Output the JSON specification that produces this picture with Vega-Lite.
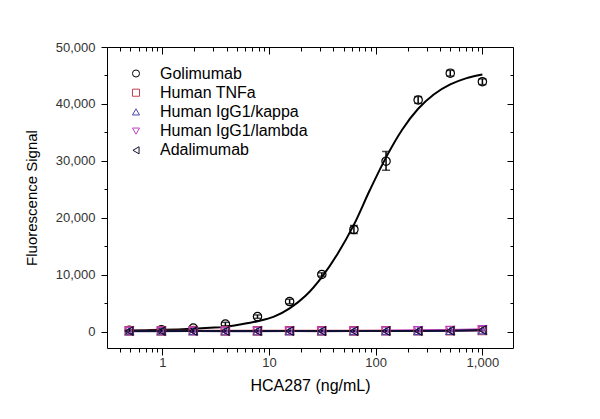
{
  "$schema": "https://vega.github.io/schema/vega-lite/v6.json",
  "autosize": "none",
  "width": 406,
  "height": 301,
  "padding": {"left": 107, "top": 47, "right": 87, "bottom": 71},
  "background": "white",
  "config": {
    "view": {"stroke": "black", "strokeWidth": 1},
    "font": "Liberation Sans",
    "axis": {"grid": false, "domain": false, "tickColor": "black", "labelFont": "Liberation Sans", "labelColor": "#333333", "labelFontSize": 13, "titleFont": "Liberation Sans", "titleFontWeight": "normal", "titleColor": "black", "titleFontSize": 16}
  },
  "datasets": {
    "gol": [
      {"x": 0.49, "y": 230, "lo": 80, "hi": 380},
      {"x": 0.98, "y": 350, "lo": 150, "hi": 550},
      {"x": 1.95, "y": 650, "lo": 400, "hi": 900},
      {"x": 3.9, "y": 1350, "lo": 1050, "hi": 1650},
      {"x": 7.8, "y": 2650, "lo": 2350, "hi": 2950},
      {"x": 15.6, "y": 5300, "lo": 4900, "hi": 5700},
      {"x": 31.25, "y": 10050, "lo": 9750, "hi": 10350},
      {"x": 62.5, "y": 17950, "lo": 17250, "hi": 18650},
      {"x": 125, "y": 29950, "lo": 28350, "hi": 31650},
      {"x": 250, "y": 40700, "lo": 40100, "hi": 41300},
      {"x": 500, "y": 45400, "lo": 44900, "hi": 45900},
      {"x": 1000, "y": 43900, "lo": 43400, "hi": 44400}
    ],
    "fit": [
      {"x": 0.49, "y": 230}, {"x": 0.7, "y": 270}, {"x": 1, "y": 330}, {"x": 1.4, "y": 410},
      {"x": 1.95, "y": 530}, {"x": 2.8, "y": 680}, {"x": 3.9, "y": 850}, {"x": 5.5, "y": 1300},
      {"x": 7.8, "y": 1850}, {"x": 11, "y": 2600}, {"x": 15.6, "y": 4100}, {"x": 22, "y": 6300},
      {"x": 31.25, "y": 9600}, {"x": 44, "y": 13700}, {"x": 62.5, "y": 18800}, {"x": 88, "y": 24840},
      {"x": 125, "y": 30620}, {"x": 177, "y": 35480}, {"x": 250, "y": 39150}, {"x": 350, "y": 41670},
      {"x": 500, "y": 43430}, {"x": 700, "y": 44490}, {"x": 1000, "y": 45180}
    ],
    "pts": [
      {"s": "Golimumab", "x": 0.49, "y": 230}, {"s": "Golimumab", "x": 0.98, "y": 350}, {"s": "Golimumab", "x": 1.95, "y": 650}, {"s": "Golimumab", "x": 3.9, "y": 1350}, {"s": "Golimumab", "x": 7.8, "y": 2650}, {"s": "Golimumab", "x": 15.6, "y": 5300}, {"s": "Golimumab", "x": 31.25, "y": 10050}, {"s": "Golimumab", "x": 62.5, "y": 17950}, {"s": "Golimumab", "x": 125, "y": 29950}, {"s": "Golimumab", "x": 250, "y": 40700}, {"s": "Golimumab", "x": 500, "y": 45400}, {"s": "Golimumab", "x": 1000, "y": 43900},
      {"s": "Human TNFa", "x": 0.49, "y": 150}, {"s": "Human TNFa", "x": 0.98, "y": 150}, {"s": "Human TNFa", "x": 1.95, "y": 160}, {"s": "Human TNFa", "x": 3.9, "y": 150}, {"s": "Human TNFa", "x": 7.8, "y": 150}, {"s": "Human TNFa", "x": 15.6, "y": 160}, {"s": "Human TNFa", "x": 31.25, "y": 150}, {"s": "Human TNFa", "x": 62.5, "y": 150}, {"s": "Human TNFa", "x": 125, "y": 160}, {"s": "Human TNFa", "x": 250, "y": 170}, {"s": "Human TNFa", "x": 500, "y": 180}, {"s": "Human TNFa", "x": 1000, "y": 200},
      {"s": "Human IgG1/kappa", "x": 0.49, "y": 100}, {"s": "Human IgG1/kappa", "x": 0.98, "y": 100}, {"s": "Human IgG1/kappa", "x": 1.95, "y": 110}, {"s": "Human IgG1/kappa", "x": 3.9, "y": 100}, {"s": "Human IgG1/kappa", "x": 7.8, "y": 100}, {"s": "Human IgG1/kappa", "x": 15.6, "y": 110}, {"s": "Human IgG1/kappa", "x": 31.25, "y": 100}, {"s": "Human IgG1/kappa", "x": 62.5, "y": 110}, {"s": "Human IgG1/kappa", "x": 125, "y": 110}, {"s": "Human IgG1/kappa", "x": 250, "y": 130}, {"s": "Human IgG1/kappa", "x": 500, "y": 150}, {"s": "Human IgG1/kappa", "x": 1000, "y": 250},
      {"s": "Human IgG1/lambda", "x": 0.49, "y": 120}, {"s": "Human IgG1/lambda", "x": 0.98, "y": 120}, {"s": "Human IgG1/lambda", "x": 1.95, "y": 130}, {"s": "Human IgG1/lambda", "x": 3.9, "y": 120}, {"s": "Human IgG1/lambda", "x": 7.8, "y": 120}, {"s": "Human IgG1/lambda", "x": 15.6, "y": 130}, {"s": "Human IgG1/lambda", "x": 31.25, "y": 130}, {"s": "Human IgG1/lambda", "x": 62.5, "y": 140}, {"s": "Human IgG1/lambda", "x": 125, "y": 160}, {"s": "Human IgG1/lambda", "x": 250, "y": 250}, {"s": "Human IgG1/lambda", "x": 500, "y": 320}, {"s": "Human IgG1/lambda", "x": 1000, "y": 450},
      {"s": "Adalimumab", "x": 0.49, "y": 120}, {"s": "Adalimumab", "x": 0.98, "y": 120}, {"s": "Adalimumab", "x": 1.95, "y": 120}, {"s": "Adalimumab", "x": 3.9, "y": 120}, {"s": "Adalimumab", "x": 7.8, "y": 120}, {"s": "Adalimumab", "x": 15.6, "y": 120}, {"s": "Adalimumab", "x": 31.25, "y": 120}, {"s": "Adalimumab", "x": 62.5, "y": 120}, {"s": "Adalimumab", "x": 125, "y": 130}, {"s": "Adalimumab", "x": 250, "y": 140}, {"s": "Adalimumab", "x": 500, "y": 180}, {"s": "Adalimumab", "x": 1000, "y": 300}
    ]
  },
  "layer": [
    {
      "data": {"name": "fit"},
      "mark": {"type": "line", "color": "black", "strokeWidth": 2, "interpolate": "monotone"},
      "encoding": {
        "x": {"field": "x", "type": "quantitative", "scale": {"type": "log", "domain": [0.303, 1936], "nice": false},
          "axis": {"orient": "bottom", "values": [1, 10, 100, 1000], "format": ",d", "tickSize": 7, "labelPadding": 1, "title": "HCA287 (ng/mL)", "titlePadding": 8}},
        "y": {"field": "y", "type": "quantitative", "scale": {"domain": [-2860, 50000], "nice": false, "zero": false},
          "axis": {"orient": "left", "values": [0, 10000, 20000, 30000, 40000, 50000], "format": ",d", "tickSize": 6, "labelPadding": 6, "title": "Fluorescence Signal", "titleFontSize": 15, "titlePadding": 16}}
      }
    },
    {
      "data": {"name": "pts"},
      "transform": [{"filter": "datum.s !== 'Golimumab'"}],
      "mark": {"type": "line", "strokeWidth": 2},
      "encoding": {
        "x": {"field": "x", "type": "quantitative", "axis": {"orient": "bottom", "values": [0.4,0.5,0.6,0.7,0.8,0.9,2,3,4,5,6,7,8,9,20,30,40,50,60,70,80,90,200,300,400,500,600,700,800,900], "labels": false, "tickSize": 4, "title": null}},
        "y": {"field": "y", "type": "quantitative", "axis": {"orient": "left", "values": [5000, 15000, 25000, 35000, 45000], "labels": false, "tickSize": 3, "title": null}},
        "color": {"field": "s", "type": "nominal"},
        "detail": {"field": "s"}
      }
    },
    {
      "data": {"name": "gol"},
      "mark": {"type": "rule", "color": "black", "strokeWidth": 1.5},
      "encoding": {
        "x": {"field": "x", "type": "quantitative", "axis": {"orient": "top", "values": [1, 10, 100, 1000], "labels": false, "tickSize": -7, "title": null}},
        "y": {"field": "lo", "type": "quantitative", "axis": {"orient": "right", "values": [0, 10000, 20000, 30000, 40000, 50000], "labels": false, "tickSize": -6, "title": null}},
        "y2": {"field": "hi"}
      }
    },
    {
      "data": {"name": "gol"},
      "mark": {"type": "tick", "orient": "horizontal", "color": "black", "size": 8, "thickness": 1.5},
      "encoding": {
        "x": {"field": "x", "type": "quantitative", "axis": {"orient": "top", "values": [0.4,0.5,0.6,0.7,0.8,0.9,2,3,4,5,6,7,8,9,20,30,40,50,60,70,80,90,200,300,400,500,600,700,800,900], "labels": false, "tickSize": -4, "title": null}},
        "y": {"field": "lo", "type": "quantitative", "axis": {"orient": "right", "values": [5000, 15000, 25000, 35000, 45000], "labels": false, "tickSize": -3, "title": null}}
      }
    },
    {
      "data": {"name": "gol"},
      "mark": {"type": "tick", "orient": "horizontal", "color": "black", "size": 8, "thickness": 1.5},
      "encoding": {
        "x": {"field": "x", "type": "quantitative", "axis": null},
        "y": {"field": "hi", "type": "quantitative", "axis": null}
      }
    },
    {
      "data": {"name": "pts"},
      "mark": {"type": "point", "filled": false, "size": 70, "strokeWidth": 1.2, "opacity": 1},
      "encoding": {
        "x": {"field": "x", "type": "quantitative", "axis": null},
        "y": {"field": "y", "type": "quantitative", "axis": null},
        "color": {"field": "s", "type": "nominal",
          "scale": {"domain": ["Golimumab", "Human TNFa", "Human IgG1/kappa", "Human IgG1/lambda", "Adalimumab"], "range": ["#000000", "#c04050", "#4848a8", "#c040c8", "#101030"]},
          "legend": {"title": null, "orient": "none", "legendX": 21, "legendY": 18.5, "padding": 0, "labelFontSize": 16, "labelColor": "black", "labelFont": "Liberation Sans", "symbolSize": 50, "symbolStrokeWidth": 1, "rowPadding": 3.2, "labelOffset": 16}},
        "shape": {"field": "s", "type": "nominal",
          "scale": {"domain": ["Golimumab", "Human TNFa", "Human IgG1/kappa", "Human IgG1/lambda", "Adalimumab"], "range": ["circle", "square", "triangle-up", "triangle-down", "triangle-left"]}}
      }
    }
  ],
  "resolve": {"axis": {"x": "independent", "y": "independent"}}
}
